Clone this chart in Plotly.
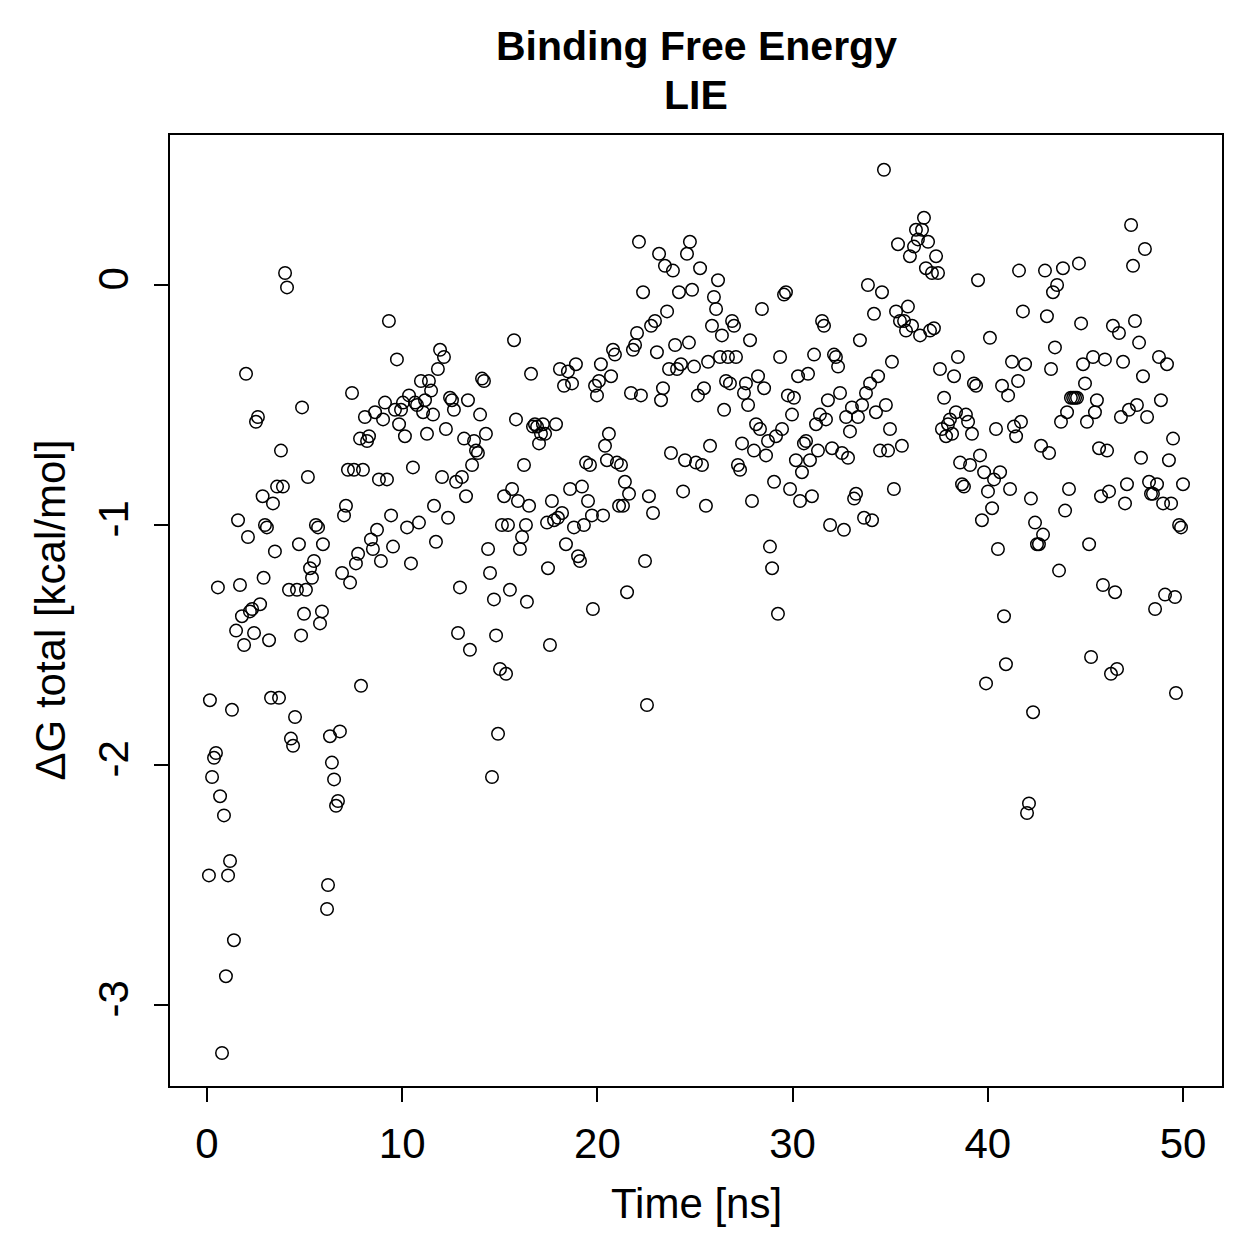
import plotly.graph_objects as go

# Time [ns] and Delta G total [kcal/mol]
time_ns = [
    0.10,0.15,0.26,0.36,0.46,0.56,0.67,0.77,0.87,0.97,1.08,1.18,1.28,1.38,1.49,1.59,1.69,1.79,1.90,2.00,2.10,2.20,2.31,2.41,2.51,2.61,2.72,
    2.85,2.90,2.97,3.07,3.18,3.28,3.38,3.48,3.59,3.69,3.79,3.89,4.00,4.10,4.20,4.30,4.41,4.51,4.61,4.71,4.82,4.87,4.97,5.07,5.17,5.28,5.38,5.48,5.58,5.69,5.79,5.89,5.94,6.15,6.20,6.30,6.40,6.51,6.61,6.71,6.81,6.92,
    7.02,7.12,7.22,7.33,7.43,7.53,7.63,7.74,7.84,7.89,7.99,8.09,8.20,8.30,8.40,8.50,8.61,8.71,8.81,8.91,9.02,9.12,9.22,9.32,9.43,9.53,9.63,9.73,9.84,9.94,10.04,10.14,10.25,10.35,10.45,10.55,10.66,10.76,10.86,
    10.96,11.07,11.17,11.27,11.37,11.48,11.58,11.63,11.73,11.83,11.94,12.04,12.14,12.24,12.35,12.45,12.55,12.65,12.76,12.86,12.96,13.06,13.17,13.27,13.37,13.47,13.58,13.68,13.78,13.88,13.99,14.09,14.19,14.29,14.40,14.50,14.60,14.70,14.81,14.91,15.01,
    15.11,15.22,15.32,15.42,15.52,15.63,15.73,15.83,15.93,16.03,16.14,16.24,16.34,16.39,16.50,16.60,16.70,16.80,16.91,17.01,17.11,17.21,17.32,17.42,17.47,17.57,17.67,17.78,17.88,17.98,18.08,18.19,18.29,18.39,18.49,18.60,18.70,18.80,18.90,19.01,19.11,
    19.21,19.31,19.42,19.52,19.62,19.72,19.77,19.88,19.98,20.08,20.18,20.29,20.39,20.49,20.59,20.70,20.80,20.90,21.00,21.11,21.21,21.31,21.41,21.52,21.62,21.72,21.82,21.93,22.03,22.13,22.23,22.34,22.44,22.54,22.64,22.75,22.85,22.95,23.05,23.16,
    23.26,23.36,23.46,23.57,23.67,23.77,23.87,23.98,24.08,24.18,24.28,24.39,24.49,24.59,24.69,24.74,24.85,24.95,25.05,25.15,25.26,25.36,25.46,25.56,25.67,25.77,25.87,25.97,26.08,26.18,26.28,26.38,26.49,26.59,26.69,26.79,26.90,27.00,27.10,27.20,27.31,
    27.41,27.51,27.61,27.72,27.82,27.92,28.02,28.13,28.23,28.33,28.43,28.54,28.64,28.74,28.84,28.95,29.05,29.15,29.25,29.36,29.46,29.56,29.66,29.76,29.87,29.97,30.07,30.17,30.28,30.38,30.48,30.58,30.69,30.79,30.89,30.99,31.10,31.20,31.30,31.40,
    31.51,31.61,31.71,31.81,31.92,32.02,32.12,32.22,32.33,32.43,32.53,32.63,32.74,32.84,32.94,33.04,33.15,33.25,33.35,33.45,33.56,33.66,33.76,33.86,33.97,34.07,34.17,34.27,34.38,34.48,34.58,34.68,34.78,34.89,34.99,35.09,35.19,35.30,35.40,35.50,
    35.60,35.71,35.81,35.91,36.01,36.12,36.22,36.32,36.42,36.53,36.63,36.73,36.83,36.94,37.04,37.14,37.24,37.35,37.45,37.55,37.65,37.76,37.86,37.96,38.06,38.17,38.27,38.37,38.47,38.58,38.68,38.78,38.88,38.99,39.09,39.19,39.29,39.40,39.50,39.60,
    39.70,39.81,39.91,40.01,40.11,40.22,40.32,40.42,40.52,40.63,40.73,40.83,40.93,41.04,41.14,41.24,41.34,41.45,41.55,41.60,41.70,41.80,41.91,42.01,42.11,42.21,42.32,42.42,42.52,42.62,42.73,42.83,42.93,43.03,43.14,43.24,43.34,43.44,43.55,43.65,
    43.75,43.85,43.96,44.06,44.16,44.26,44.37,44.47,44.57,44.67,44.78,44.88,44.98,45.08,45.19,45.29,45.39,45.49,45.59,45.70,45.80,45.90,46.00,46.11,46.21,46.31,46.41,46.52,46.62,46.72,46.82,46.93,47.03,47.13,47.23,47.34,47.44,47.54,47.64,47.75,47.85,47.95,48.05,48.16,48.26,48.36,48.46,48.57,48.67,48.77,48.87,48.98,49.08,49.18,49.28,49.39,49.49,49.59,49.64,49.80,49.90,50.00,
]

dg_total = [
    -2.46,-1.73,-2.05,-1.97,-1.95,-1.26,-2.13,-3.20,-2.21,-2.88,-2.46,-2.40,-1.77,-2.73,-1.44,-0.98,-1.25,-1.38,-1.50,-0.37,-1.05,-1.36,-1.35,-1.45,-0.57,-0.55,-1.33,
    -0.88,-1.22,-1.00,-1.01,-1.48,-1.72,-0.91,-1.11,-0.84,-1.72,-0.69,-0.84,0.05,-0.01,-1.27,-1.89,-1.92,-1.80,-1.27,-1.08,-1.46,-0.51,-1.37,-1.27,-0.80,-1.18,-1.22,-1.15,-1.00,-1.01,-1.41,-1.36,-1.08,-2.60,-2.50,-1.88,-1.99,-2.06,-2.17,-2.15,-1.86,-1.20,
    -0.96,-0.92,-0.77,-1.24,-0.45,-0.77,-1.16,-1.12,-0.64,-1.67,-0.77,-0.55,-0.65,-0.63,-1.06,-1.10,-0.53,-1.02,-0.81,-1.15,-0.56,-0.49,-0.81,-0.15,-0.96,-1.09,-0.52,-0.31,-0.58,-0.52,-0.49,-0.63,-1.01,-0.46,-1.16,-0.76,-0.49,-0.50,-0.99,
    -0.40,-0.53,-0.48,-0.62,-0.40,-0.44,-0.54,-0.92,-1.07,-0.35,-0.27,-0.80,-0.30,-0.60,-0.97,-0.47,-0.48,-0.52,-0.82,-1.45,-1.26,-0.80,-0.64,-0.88,-0.48,-1.52,-0.75,-0.65,-0.69,-0.70,-0.54,-0.39,-0.40,-0.62,-1.10,-1.20,-2.05,-1.31,-1.46,-1.87,-1.60,
    -1.00,-0.88,-1.62,-1.00,-1.27,-0.85,-0.23,-0.56,-0.90,-1.10,-1.05,-0.75,-1.00,-1.32,-0.92,-0.37,-0.59,-0.58,-0.59,-0.66,-0.62,-0.58,-0.62,-0.99,-1.18,-1.50,-0.90,-0.98,-0.58,-0.97,-0.35,-0.95,-0.42,-1.08,-0.36,-0.85,-0.41,-1.01,-0.33,-1.13,-1.15,
    -0.84,-1.00,-0.74,-0.90,-0.75,-0.96,-1.35,-0.42,-0.46,-0.40,-0.33,-0.96,-0.67,-0.73,-0.62,-0.38,-0.27,-0.29,-0.74,-0.92,-0.75,-0.92,-0.82,-1.28,-0.87,-0.45,-0.27,-0.25,-0.20,0.18,-0.46,-0.03,-1.15,-1.75,-0.88,-0.17,-0.95,-0.15,-0.28,0.13,
    -0.48,-0.43,0.08,-0.11,-0.35,-0.70,0.06,-0.25,-0.35,-0.03,-0.33,-0.86,-0.73,0.13,-0.24,0.18,-0.02,-0.34,-0.74,-0.46,0.07,-0.75,-0.43,-0.92,-0.32,-0.67,-0.17,-0.05,-0.10,0.02,-0.30,-0.21,-0.52,-0.40,-0.30,-0.41,-0.15,-0.17,-0.30,-0.75,-0.77,
    -0.66,-0.45,-0.41,-0.50,-0.23,-0.90,-0.69,-0.58,-0.38,-0.60,-0.10,-0.43,-0.71,-0.65,-1.09,-1.18,-0.82,-0.63,-1.37,-0.30,-0.60,-0.04,-0.03,-0.46,-0.85,-0.54,-0.47,-0.73,-0.38,-0.90,-0.78,-0.66,-0.65,-0.37,-0.73,-0.88,-0.29,-0.58,-0.69,-0.54,
    -0.15,-0.17,-0.56,-0.48,-1.00,-0.68,-0.29,-0.30,-0.34,-0.45,-0.70,-1.02,-0.55,-0.72,-0.61,-0.51,-0.89,-0.87,-0.55,-0.23,-0.50,-0.97,-0.45,0.00,-0.41,-0.98,-0.12,-0.53,-0.38,-0.69,-0.03,0.48,-0.50,-0.69,-0.60,-0.32,-0.85,-0.11,0.17,-0.15,
    -0.67,-0.15,-0.19,-0.09,0.12,-0.17,0.16,0.23,0.19,-0.21,0.23,0.28,0.07,0.18,-0.19,0.05,-0.18,0.12,0.05,-0.35,-0.60,-0.47,-0.63,-0.58,-0.56,-0.62,-0.38,-0.53,-0.30,-0.74,-0.83,-0.84,-0.54,-0.57,-0.75,-0.62,-0.41,-0.42,0.02,-0.71,
    -0.98,-0.78,-1.66,-0.86,-0.22,-0.93,-0.81,-0.60,-1.10,-0.78,-0.42,-1.38,-1.58,-0.46,-0.85,-0.32,-0.59,-0.63,-0.40,0.06,-0.57,-0.11,-0.33,-2.20,-2.16,-0.89,-1.78,-0.99,-1.08,-1.08,-0.67,-1.04,0.06,-0.13,-0.70,-0.35,-0.03,-0.26,0.00,-1.19,
    -0.57,0.07,-0.94,-0.53,-0.85,-0.47,-0.47,-0.47,-0.47,0.09,-0.16,-0.33,-0.41,-0.57,-1.08,-1.55,-0.30,-0.53,-0.48,-0.68,-0.88,-1.25,-0.31,-0.69,-0.86,-1.62,-0.17,-1.28,-1.60,-0.20,-0.55,-0.32,-0.91,-0.83,-0.52,0.25,0.08,-0.15,-0.50,-0.24,-0.72,-0.38,0.15,-0.55,-0.82,-0.87,-0.87,-1.35,-0.83,-0.30,-0.48,-0.91,-1.29,-0.33,-0.73,-0.91,-0.64,-1.30,-1.70,-1.00,-1.01,-0.83,
]

x_ticks = [0, 10, 20, 30, 40, 50]
y_ticks = [-3, -2, -1, 0]

n = min(len(time_ns), len(dg_total))
FONT = "Liberation Sans, Arial, Helvetica, sans-serif"

fig = go.Figure(go.Scatter(
    x=time_ns[:n], y=dg_total[:n], mode="markers",
    marker=dict(symbol="circle-open", size=12.5, color="black", line=dict(width=1.5, color="black")),
    showlegend=False, hoverinfo="x+y",
))

axis_common = dict(
    showline=True, linecolor="black", linewidth=2, mirror=True,
    ticks="outside", ticklen=14, tickwidth=2, tickcolor="black",
    showgrid=False, zeroline=False,
    tickfont=dict(family=FONT, size=42, color="black"),
)

fig.update_layout(
    width=1259, height=1259,
    margin=dict(l=170, r=37, t=135, b=173, autoexpand=False),
    paper_bgcolor="white", plot_bgcolor="white",
    font=dict(family=FONT, color="black"),
    xaxis=dict(range=[-1.895, 51.998], tickvals=x_ticks, ticktext=[str(v) for v in x_ticks],
               ticklabelstandoff=6, **axis_common),
    yaxis=dict(range=[-3.3375, 0.625], tickvals=y_ticks, ticktext=[str(v) for v in y_ticks],
               tickangle=-90, ticklabelstandoff=9, **axis_common),
    annotations=[
        dict(text="<b>Binding Free Energy</b>", xref="paper", yref="paper", x=0.5, y=(1086 - 46) / 951,
             showarrow=False, xanchor="center", yanchor="middle", font=dict(family=FONT, size=41, color="black")),
        dict(text="<b>LIE</b>", xref="paper", yref="paper", x=0.5, y=(1086 - 95) / 951,
             showarrow=False, xanchor="center", yanchor="middle", font=dict(family=FONT, size=41, color="black")),
        dict(text="Time [ns]", xref="paper", yref="paper", x=0.5, y=(1086 - 1203) / 951,
             showarrow=False, xanchor="center", yanchor="middle", font=dict(family=FONT, size=42, color="black")),
        dict(text="ΔG total [kcal/mol]", xref="paper", yref="paper", x=(50 - 170) / 1052, y=0.5,
             textangle=-90, showarrow=False, xanchor="center", yanchor="middle",
             font=dict(family=FONT, size=42, color="black")),
    ],
)

fig.write_html("out.html")
